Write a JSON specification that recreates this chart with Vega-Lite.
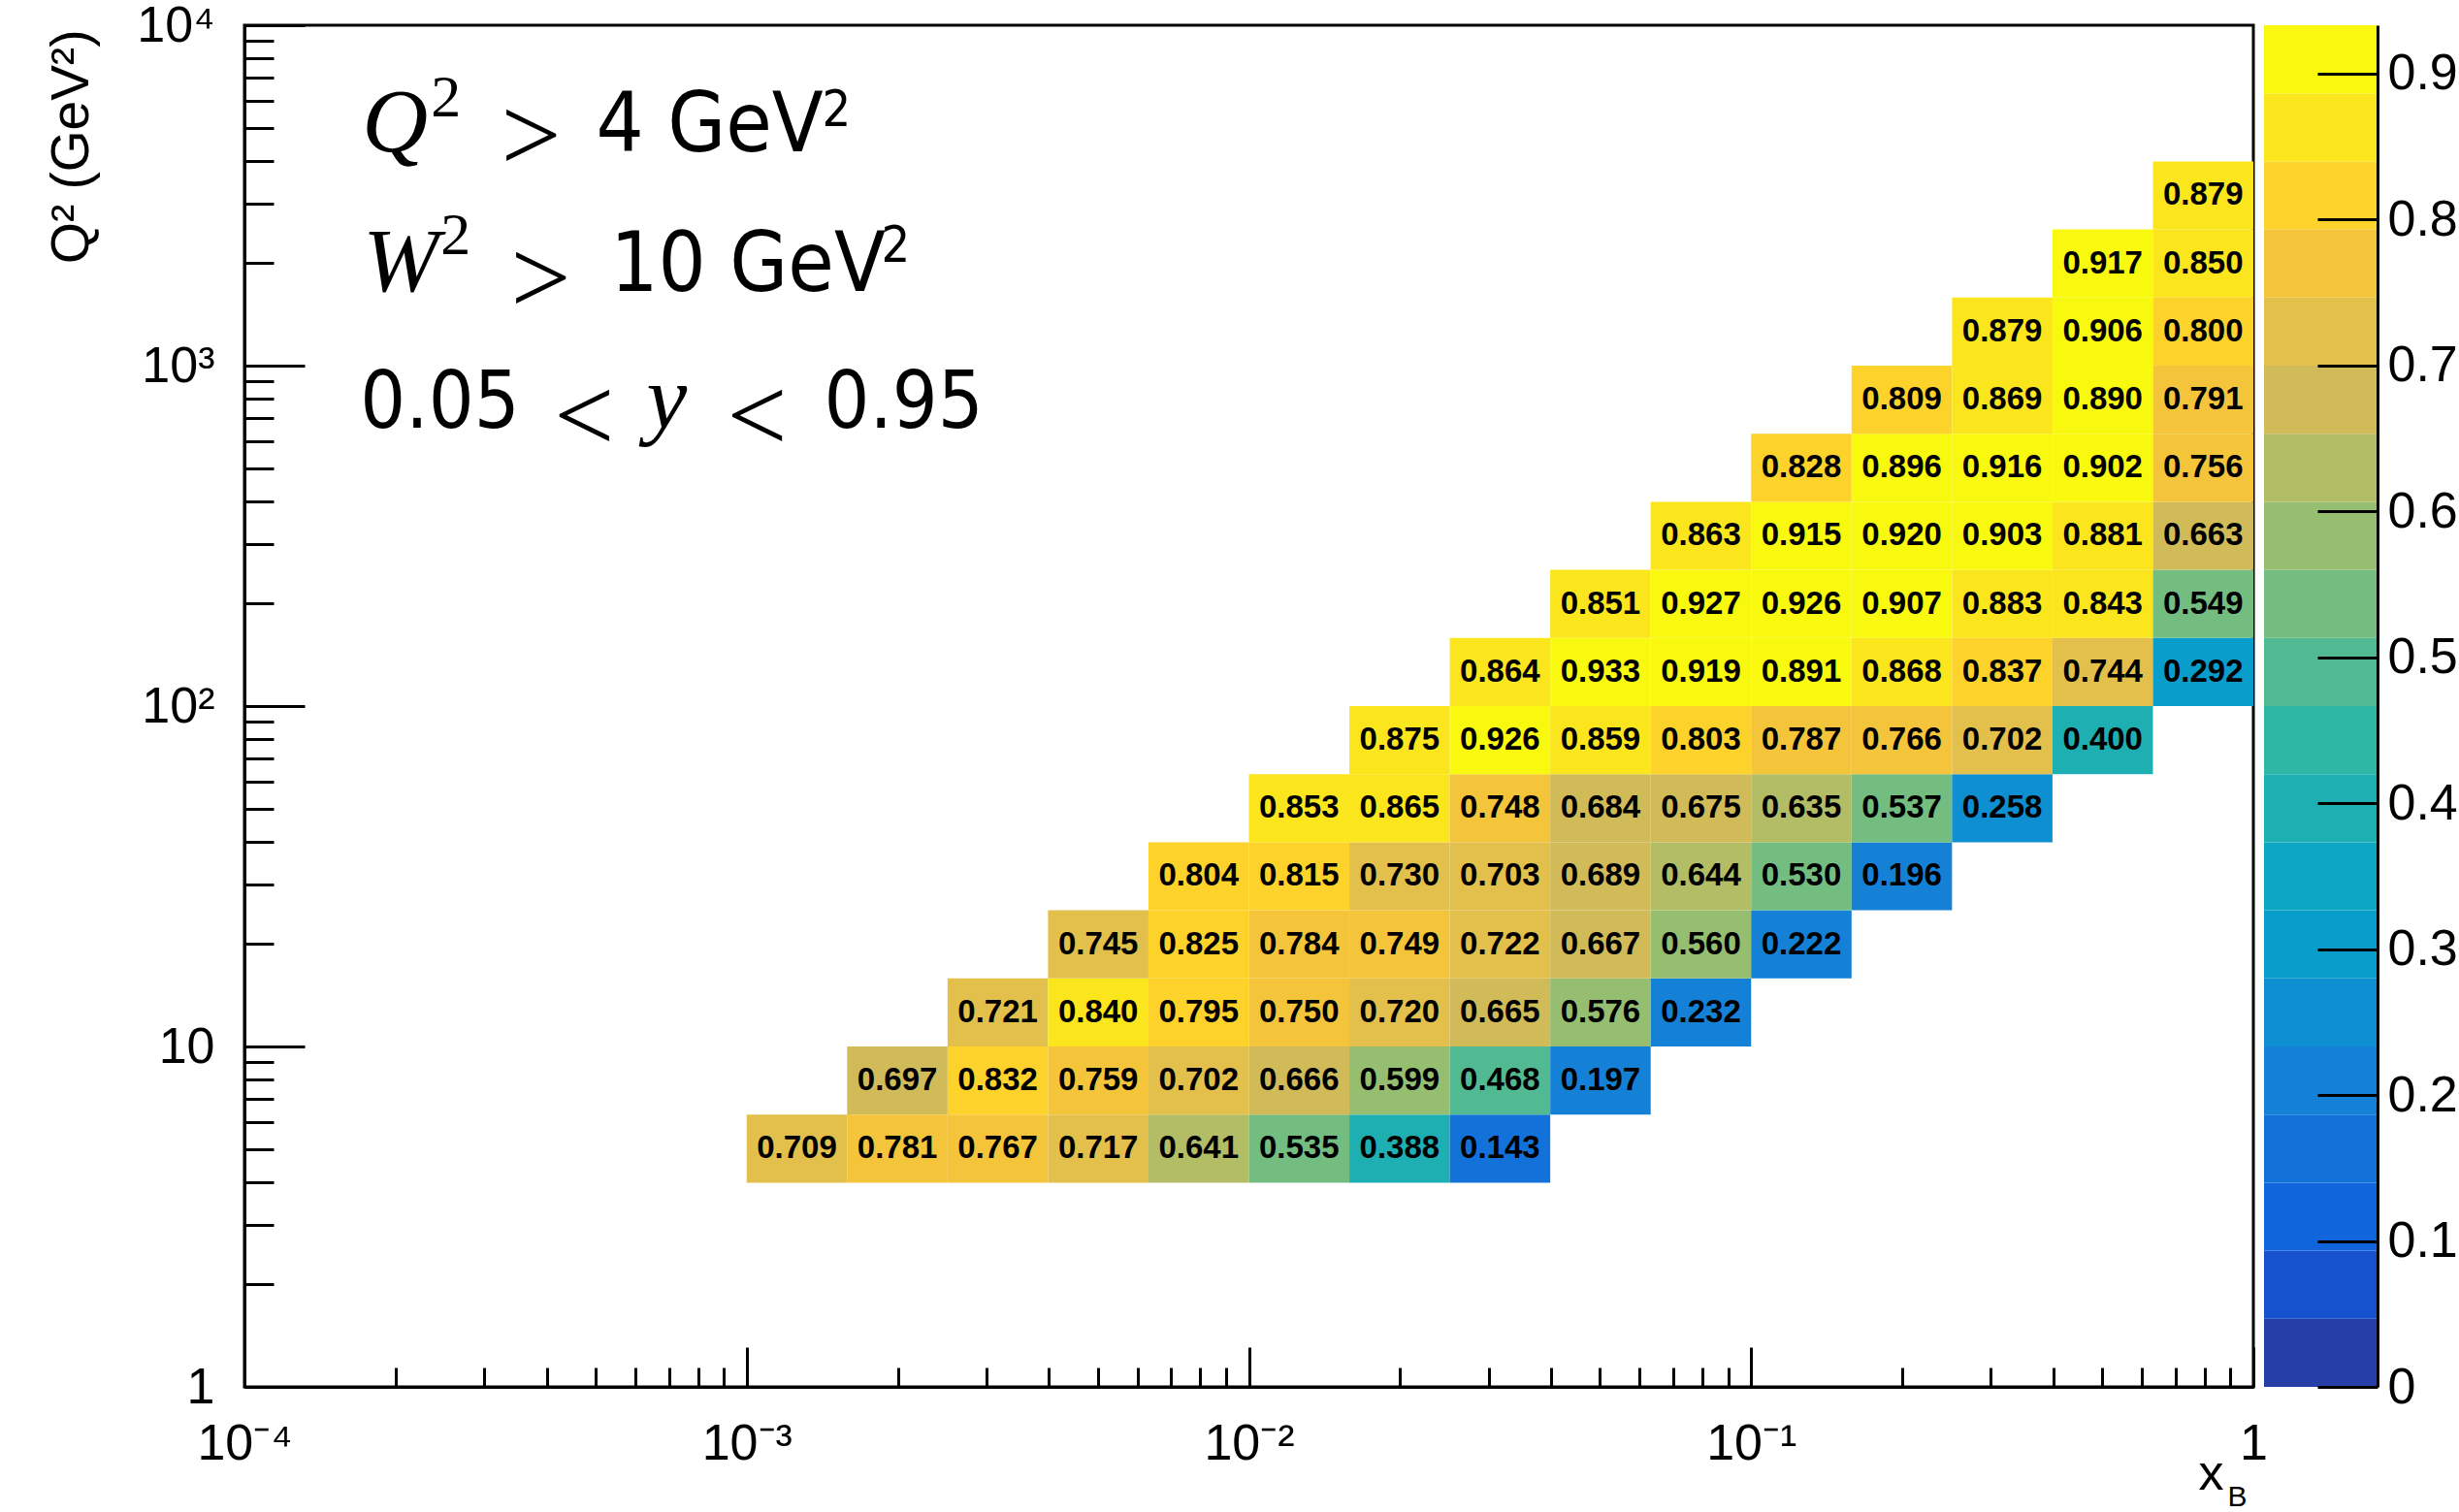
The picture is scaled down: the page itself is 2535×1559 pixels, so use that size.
{
  "$schema": "https://vega.github.io/schema/vega-lite/v6.json",
  "background": "white",
  "padding": {"left": 44, "top": -2, "right": 0, "bottom": 0},
  "autosize": {"type": "pad"},
  "spacing": 11,
  "bounds": "flush",
  "resolve": {"scale": {"color": "independent"}},
  "config": {
    "view": {"stroke": null},
    "axis": {
      "grid": false,
      "zindex": 1,
      "domainColor": "black",
      "domainWidth": 3,
      "tickColor": "black",
      "tickWidth": 3,
      "labelColor": "black",
      "titleColor": "black",
      "labelFont": "Liberation Sans",
      "titleFont": "Liberation Sans",
      "labelFontSize": 52,
      "titleFontSize": 55,
      "titleFontWeight": "normal",
      "labelOverlap": false,
      "labelFlush": false,
      "labelBound": false
    }
  },
  "datasets": {
    "xbins": [
      {"ix": 0, "x0": 0.001, "x1": 0.0015849, "xc": 0.0012589},
      {"ix": 1, "x0": 0.0015849, "x1": 0.0025119, "xc": 0.0019953},
      {"ix": 2, "x0": 0.0025119, "x1": 0.0039811, "xc": 0.0031623},
      {"ix": 3, "x0": 0.0039811, "x1": 0.0063096, "xc": 0.0050119},
      {"ix": 4, "x0": 0.0063096, "x1": 0.01, "xc": 0.0079433},
      {"ix": 5, "x0": 0.01, "x1": 0.015849, "xc": 0.012589},
      {"ix": 6, "x0": 0.015849, "x1": 0.025119, "xc": 0.019953},
      {"ix": 7, "x0": 0.025119, "x1": 0.039811, "xc": 0.031623},
      {"ix": 8, "x0": 0.039811, "x1": 0.063096, "xc": 0.050119},
      {"ix": 9, "x0": 0.063096, "x1": 0.1, "xc": 0.079433},
      {"ix": 10, "x0": 0.1, "x1": 0.15849, "xc": 0.12589},
      {"ix": 11, "x0": 0.15849, "x1": 0.25119, "xc": 0.19953},
      {"ix": 12, "x0": 0.25119, "x1": 0.39811, "xc": 0.31623},
      {"ix": 13, "x0": 0.39811, "x1": 0.63096, "xc": 0.50119},
      {"ix": 14, "x0": 0.63096, "x1": 1, "xc": 0.79433}
    ],
    "qbins": [
      {"iq": 0, "q0": 3.9811, "q1": 6.3096, "qc": 5.0119},
      {"iq": 1, "q0": 6.3096, "q1": 10, "qc": 7.9433},
      {"iq": 2, "q0": 10, "q1": 15.849, "qc": 12.589},
      {"iq": 3, "q0": 15.849, "q1": 25.119, "qc": 19.953},
      {"iq": 4, "q0": 25.119, "q1": 39.811, "qc": 31.623},
      {"iq": 5, "q0": 39.811, "q1": 63.096, "qc": 50.119},
      {"iq": 6, "q0": 63.096, "q1": 100, "qc": 79.433},
      {"iq": 7, "q0": 100, "q1": 158.49, "qc": 125.89},
      {"iq": 8, "q0": 158.49, "q1": 251.19, "qc": 199.53},
      {"iq": 9, "q0": 251.19, "q1": 398.11, "qc": 316.23},
      {"iq": 10, "q0": 398.11, "q1": 630.96, "qc": 501.19},
      {"iq": 11, "q0": 630.96, "q1": 1000, "qc": 794.33},
      {"iq": 12, "q0": 1000, "q1": 1584.9, "qc": 1258.9},
      {"iq": 13, "q0": 1584.9, "q1": 2511.9, "qc": 1995.3},
      {"iq": 14, "q0": 2511.9, "q1": 3981.1, "qc": 3162.3}
    ],
    "cells": [
      {"iq": 0, "ix": 0, "v": 0.709}, {"iq": 0, "ix": 1, "v": 0.781}, {"iq": 0, "ix": 2, "v": 0.767}, {"iq": 0, "ix": 3, "v": 0.717},
      {"iq": 0, "ix": 4, "v": 0.641}, {"iq": 0, "ix": 5, "v": 0.535}, {"iq": 0, "ix": 6, "v": 0.388}, {"iq": 0, "ix": 7, "v": 0.143},
      {"iq": 1, "ix": 1, "v": 0.697}, {"iq": 1, "ix": 2, "v": 0.832}, {"iq": 1, "ix": 3, "v": 0.759}, {"iq": 1, "ix": 4, "v": 0.702},
      {"iq": 1, "ix": 5, "v": 0.666}, {"iq": 1, "ix": 6, "v": 0.599}, {"iq": 1, "ix": 7, "v": 0.468}, {"iq": 1, "ix": 8, "v": 0.197},
      {"iq": 2, "ix": 2, "v": 0.721}, {"iq": 2, "ix": 3, "v": 0.840}, {"iq": 2, "ix": 4, "v": 0.795}, {"iq": 2, "ix": 5, "v": 0.750},
      {"iq": 2, "ix": 6, "v": 0.720}, {"iq": 2, "ix": 7, "v": 0.665}, {"iq": 2, "ix": 8, "v": 0.576}, {"iq": 2, "ix": 9, "v": 0.232},
      {"iq": 3, "ix": 3, "v": 0.745}, {"iq": 3, "ix": 4, "v": 0.825}, {"iq": 3, "ix": 5, "v": 0.784}, {"iq": 3, "ix": 6, "v": 0.749},
      {"iq": 3, "ix": 7, "v": 0.722}, {"iq": 3, "ix": 8, "v": 0.667}, {"iq": 3, "ix": 9, "v": 0.560}, {"iq": 3, "ix": 10, "v": 0.222},
      {"iq": 4, "ix": 4, "v": 0.804}, {"iq": 4, "ix": 5, "v": 0.815}, {"iq": 4, "ix": 6, "v": 0.730}, {"iq": 4, "ix": 7, "v": 0.703},
      {"iq": 4, "ix": 8, "v": 0.689}, {"iq": 4, "ix": 9, "v": 0.644}, {"iq": 4, "ix": 10, "v": 0.530}, {"iq": 4, "ix": 11, "v": 0.196},
      {"iq": 5, "ix": 5, "v": 0.853}, {"iq": 5, "ix": 6, "v": 0.865}, {"iq": 5, "ix": 7, "v": 0.748}, {"iq": 5, "ix": 8, "v": 0.684},
      {"iq": 5, "ix": 9, "v": 0.675}, {"iq": 5, "ix": 10, "v": 0.635}, {"iq": 5, "ix": 11, "v": 0.537}, {"iq": 5, "ix": 12, "v": 0.258},
      {"iq": 6, "ix": 6, "v": 0.875}, {"iq": 6, "ix": 7, "v": 0.926}, {"iq": 6, "ix": 8, "v": 0.859}, {"iq": 6, "ix": 9, "v": 0.803},
      {"iq": 6, "ix": 10, "v": 0.787}, {"iq": 6, "ix": 11, "v": 0.766}, {"iq": 6, "ix": 12, "v": 0.702}, {"iq": 6, "ix": 13, "v": 0.400},
      {"iq": 7, "ix": 7, "v": 0.864}, {"iq": 7, "ix": 8, "v": 0.933}, {"iq": 7, "ix": 9, "v": 0.919}, {"iq": 7, "ix": 10, "v": 0.891},
      {"iq": 7, "ix": 11, "v": 0.868}, {"iq": 7, "ix": 12, "v": 0.837}, {"iq": 7, "ix": 13, "v": 0.744}, {"iq": 7, "ix": 14, "v": 0.292},
      {"iq": 8, "ix": 8, "v": 0.851}, {"iq": 8, "ix": 9, "v": 0.927}, {"iq": 8, "ix": 10, "v": 0.926}, {"iq": 8, "ix": 11, "v": 0.907},
      {"iq": 8, "ix": 12, "v": 0.883}, {"iq": 8, "ix": 13, "v": 0.843}, {"iq": 8, "ix": 14, "v": 0.549},
      {"iq": 9, "ix": 9, "v": 0.863}, {"iq": 9, "ix": 10, "v": 0.915}, {"iq": 9, "ix": 11, "v": 0.920}, {"iq": 9, "ix": 12, "v": 0.903},
      {"iq": 9, "ix": 13, "v": 0.881}, {"iq": 9, "ix": 14, "v": 0.663},
      {"iq": 10, "ix": 10, "v": 0.828}, {"iq": 10, "ix": 11, "v": 0.896}, {"iq": 10, "ix": 12, "v": 0.916}, {"iq": 10, "ix": 13, "v": 0.902},
      {"iq": 10, "ix": 14, "v": 0.756},
      {"iq": 11, "ix": 11, "v": 0.809}, {"iq": 11, "ix": 12, "v": 0.869}, {"iq": 11, "ix": 13, "v": 0.890}, {"iq": 11, "ix": 14, "v": 0.791},
      {"iq": 12, "ix": 12, "v": 0.879}, {"iq": 12, "ix": 13, "v": 0.906}, {"iq": 12, "ix": 14, "v": 0.800},
      {"iq": 13, "ix": 13, "v": 0.917}, {"iq": 13, "ix": 14, "v": 0.850},
      {"iq": 14, "ix": 14, "v": 0.879}
    ],
    "bands": [
      {"lo": 0, "hi": 0.04665}, {"lo": 0.04665, "hi": 0.0933}, {"lo": 0.0933, "hi": 0.13995}, {"lo": 0.13995, "hi": 0.1866},
      {"lo": 0.1866, "hi": 0.23325}, {"lo": 0.23325, "hi": 0.2799}, {"lo": 0.2799, "hi": 0.32655}, {"lo": 0.32655, "hi": 0.3732},
      {"lo": 0.3732, "hi": 0.41985}, {"lo": 0.41985, "hi": 0.4665}, {"lo": 0.4665, "hi": 0.51315}, {"lo": 0.51315, "hi": 0.5598},
      {"lo": 0.5598, "hi": 0.60645}, {"lo": 0.60645, "hi": 0.6531}, {"lo": 0.6531, "hi": 0.69975}, {"lo": 0.69975, "hi": 0.7464},
      {"lo": 0.7464, "hi": 0.79305}, {"lo": 0.79305, "hi": 0.8397}, {"lo": 0.8397, "hi": 0.88635}, {"lo": 0.88635, "hi": 0.933}
    ]
  },
  "hconcat": [
    {
      "width": 2071,
      "height": 1404,
      "view": {"stroke": "black", "strokeWidth": 3},
      "layer": [
        {
          "data": {"name": "cells"},
          "transform": [
            {"lookup": "ix", "from": {"data": {"name": "xbins"}, "key": "ix", "fields": ["x0", "x1", "xc"]}},
            {"lookup": "iq", "from": {"data": {"name": "qbins"}, "key": "iq", "fields": ["q0", "q1", "qc"]}}
          ],
          "mark": {"type": "rect"},
          "encoding": {
            "x": {
              "field": "x0", "type": "quantitative",
              "scale": {"type": "log", "domain": [0.0001, 1], "nice": false},
              "axis": {
                "orient": "bottom",
                "title": null,
                "values": [0.0001,0.0002,0.0003,0.0004,0.0005,0.0006,0.0007,0.0008,0.0009,0.001,0.002,0.003,0.004,0.005,0.006,0.007,0.008,0.009,0.01,0.02,0.03,0.04,0.05,0.06,0.07,0.08,0.09,0.1,0.2,0.3,0.4,0.5,0.6,0.7,0.8,0.9,1],
                "tickSize": {"condition": {"test": "abs(log(datum.value)/LN10 - round(log(datum.value)/LN10)) < 0.001", "value": -41}, "value": -20},
                "labelPadding": 74,
                "labelExpr": "abs(log(datum.value)/LN10 - round(log(datum.value)/LN10)) > 0.001 ? '' : datum.value > 0.5 ? '1' : datum.value > 0.05 ? '10⁻¹' : datum.value > 0.005 ? '10⁻²' : datum.value > 0.0005 ? '10⁻³' : '10⁻⁴'"
              }
            },
            "x2": {"field": "x1"},
            "y": {
              "field": "q0", "type": "quantitative",
              "scale": {"type": "log", "domain": [1, 10000], "nice": false},
              "axis": {
                "orient": "left",
                "title": "Q² (GeV²)",
                "titleAnchor": "end",
                "titleAngle": 270,
                "titleAlign": "right",
                "titleBaseline": "bottom",
                "titleX": -150,
                "titleY": 4,
                "values": [1,2,3,4,5,6,7,8,9,10,20,30,40,50,60,70,80,90,100,200,300,400,500,600,700,800,900,1000,2000,3000,4000,5000,6000,7000,8000,9000,10000],
                "tickSize": {"condition": {"test": "abs(log(datum.value)/LN10 - round(log(datum.value)/LN10)) < 0.001", "value": -62}, "value": -30},
                "labelPadding": 93,
                "labelExpr": "abs(log(datum.value)/LN10 - round(log(datum.value)/LN10)) > 0.001 ? '' : datum.value < 2 ? '1' : datum.value < 20 ? '10' : datum.value < 200 ? '10²' : datum.value < 2000 ? '10³' : '10⁴'"
              }
            },
            "y2": {"field": "q1"},
            "color": {
              "field": "v", "type": "quantitative",
              "scale": {
                "type": "threshold",
                "domain": [0.04618, 0.09283, 0.13948, 0.18613, 0.23278, 0.27943, 0.32608, 0.37273, 0.41938, 0.46603, 0.51268, 0.55933, 0.60598, 0.65263, 0.69928, 0.74593, 0.79258, 0.83923, 0.88588],
                "range": ["#263ea8","#1652cd","#1064dc","#1272d9","#1481d6","#0e8fd1","#099dcc","#0da7c3","#1eafb3","#2eb7a4","#52ba92","#74bd81","#95be71","#b3bd65","#d1bb59","#e2c04b","#f4c53b","#fdd22b","#fbe61d","#f9f90f"]
              },
              "legend": null
            }
          }
        },
        {
          "data": {"name": "cells"},
          "transform": [
            {"lookup": "ix", "from": {"data": {"name": "xbins"}, "key": "ix", "fields": ["x0", "x1", "xc"]}},
            {"lookup": "iq", "from": {"data": {"name": "qbins"}, "key": "iq", "fields": ["q0", "q1", "qc"]}}
          ],
          "mark": {"type": "text", "font": "Liberation Sans", "fontWeight": "bold", "fontSize": 33, "align": "center", "baseline": "middle", "color": "black"},
          "encoding": {
            "x": {"field": "xc", "type": "quantitative", "scale": {"type": "log", "domain": [0.0001, 1], "nice": false}},
            "y": {"field": "qc", "type": "quantitative", "scale": {"type": "log", "domain": [1, 10000], "nice": false}},
            "text": {"field": "v", "type": "quantitative", "format": ".3f"}
          }
        },
        {
          "data": {"values": [{}]},
          "mark": {"type": "text", "text": "Q", "font": "Liberation Serif", "fontStyle": "italic", "fontSize": 94, "align": "left", "baseline": "alphabetic", "color": "black"},
          "encoding": {
            "x": {"datum": 0.00017155, "type": "quantitative", "scale": {"type": "log", "domain": [0.0001, 1], "nice": false}},
            "y": {"datum": 4276, "type": "quantitative", "scale": {"type": "log", "domain": [1, 10000], "nice": false}}
          }
        },
        {
          "data": {"values": [{}]},
          "mark": {"type": "text", "text": "2", "font": "Liberation Serif", "fontSize": 62, "align": "left", "baseline": "alphabetic", "color": "black"},
          "encoding": {
            "x": {"datum": 0.00023522, "type": "quantitative", "scale": {"type": "log", "domain": [0.0001, 1], "nice": false}},
            "y": {"datum": 5380, "type": "quantitative", "scale": {"type": "log", "domain": [1, 10000], "nice": false}}
          }
        },
        {
          "data": {"values": [{}]},
          "mark": {"type": "text", "text": ">", "font": "Liberation Serif", "fontSize": 110, "align": "left", "baseline": "alphabetic", "color": "black"},
          "encoding": {
            "x": {"datum": 0.00032408, "type": "quantitative", "scale": {"type": "log", "domain": [0.0001, 1], "nice": false}},
            "y": {"datum": 3726, "type": "quantitative", "scale": {"type": "log", "domain": [1, 10000], "nice": false}}
          }
        },
        {
          "data": {"values": [{}]},
          "mark": {"type": "text", "text": "4 GeV", "font": "DejaVu Sans Condensed, Liberation Sans Narrow, DejaVu Sans", "fontSize": 86, "align": "left", "baseline": "alphabetic", "color": "black"},
          "encoding": {
            "x": {"datum": 0.00050119, "type": "quantitative", "scale": {"type": "log", "domain": [0.0001, 1], "nice": false}},
            "y": {"datum": 4276, "type": "quantitative", "scale": {"type": "log", "domain": [1, 10000], "nice": false}}
          }
        },
        {
          "data": {"values": [{}]},
          "mark": {"type": "text", "text": "2", "font": "DejaVu Sans Condensed, Liberation Sans Narrow, DejaVu Sans", "fontSize": 52, "align": "left", "baseline": "alphabetic", "color": "black"},
          "encoding": {
            "x": {"datum": 0.0014125, "type": "quantitative", "scale": {"type": "log", "domain": [0.0001, 1], "nice": false}},
            "y": {"datum": 5039, "type": "quantitative", "scale": {"type": "log", "domain": [1, 10000], "nice": false}}
          }
        },
        {
          "data": {"values": [{}]},
          "mark": {"type": "text", "text": "W", "font": "Liberation Serif", "fontStyle": "italic", "fontSize": 94, "align": "left", "baseline": "alphabetic", "color": "black"},
          "encoding": {
            "x": {"datum": 0.0001723, "type": "quantitative", "scale": {"type": "log", "domain": [0.0001, 1], "nice": false}},
            "y": {"datum": 1652, "type": "quantitative", "scale": {"type": "log", "domain": [1, 10000], "nice": false}}
          }
        },
        {
          "data": {"values": [{}]},
          "mark": {"type": "text", "text": "2", "font": "Liberation Serif", "fontSize": 62, "align": "left", "baseline": "alphabetic", "color": "black"},
          "encoding": {
            "x": {"datum": 0.00024591, "type": "quantitative", "scale": {"type": "log", "domain": [0.0001, 1], "nice": false}},
            "y": {"datum": 2120, "type": "quantitative", "scale": {"type": "log", "domain": [1, 10000], "nice": false}}
          }
        },
        {
          "data": {"values": [{}]},
          "mark": {"type": "text", "text": ">", "font": "Liberation Serif", "fontSize": 110, "align": "left", "baseline": "alphabetic", "color": "black"},
          "encoding": {
            "x": {"datum": 0.00033884, "type": "quantitative", "scale": {"type": "log", "domain": [0.0001, 1], "nice": false}},
            "y": {"datum": 1423, "type": "quantitative", "scale": {"type": "log", "domain": [1, 10000], "nice": false}}
          }
        },
        {
          "data": {"values": [{}]},
          "mark": {"type": "text", "text": "10 GeV", "font": "DejaVu Sans Condensed, Liberation Sans Narrow, DejaVu Sans", "fontSize": 86, "align": "left", "baseline": "alphabetic", "color": "black"},
          "encoding": {
            "x": {"datum": 0.00053556, "type": "quantitative", "scale": {"type": "log", "domain": [0.0001, 1], "nice": false}},
            "y": {"datum": 1652, "type": "quantitative", "scale": {"type": "log", "domain": [1, 10000], "nice": false}}
          }
        },
        {
          "data": {"values": [{}]},
          "mark": {"type": "text", "text": "2", "font": "DejaVu Sans Condensed, Liberation Sans Narrow, DejaVu Sans", "fontSize": 52, "align": "left", "baseline": "alphabetic", "color": "black"},
          "encoding": {
            "x": {"datum": 0.0018526, "type": "quantitative", "scale": {"type": "log", "domain": [0.0001, 1], "nice": false}},
            "y": {"datum": 2024, "type": "quantitative", "scale": {"type": "log", "domain": [1, 10000], "nice": false}}
          }
        },
        {
          "data": {"values": [{}]},
          "mark": {"type": "text", "text": "0.05", "font": "DejaVu Sans Condensed, Liberation Sans Narrow, DejaVu Sans", "fontSize": 82, "align": "left", "baseline": "alphabetic", "color": "black"},
          "encoding": {
            "x": {"datum": 0.00017003, "type": "quantitative", "scale": {"type": "log", "domain": [0.0001, 1], "nice": false}},
            "y": {"datum": 659, "type": "quantitative", "scale": {"type": "log", "domain": [1, 10000], "nice": false}}
          }
        },
        {
          "data": {"values": [{}]},
          "mark": {"type": "text", "text": "<", "font": "Liberation Serif", "fontSize": 110, "align": "left", "baseline": "alphabetic", "color": "black"},
          "encoding": {
            "x": {"datum": 0.00041381, "type": "quantitative", "scale": {"type": "log", "domain": [0.0001, 1], "nice": false}},
            "y": {"datum": 560, "type": "quantitative", "scale": {"type": "log", "domain": [1, 10000], "nice": false}}
          }
        },
        {
          "data": {"values": [{}]},
          "mark": {"type": "text", "text": "y", "font": "Liberation Serif", "fontStyle": "italic", "fontSize": 94, "align": "left", "baseline": "alphabetic", "color": "black"},
          "encoding": {
            "x": {"datum": 0.00063154, "type": "quantitative", "scale": {"type": "log", "domain": [0.0001, 1], "nice": false}},
            "y": {"datum": 659, "type": "quantitative", "scale": {"type": "log", "domain": [1, 10000], "nice": false}}
          }
        },
        {
          "data": {"values": [{}]},
          "mark": {"type": "text", "text": "<", "font": "Liberation Serif", "fontSize": 110, "align": "left", "baseline": "alphabetic", "color": "black"},
          "encoding": {
            "x": {"datum": 0.00091344, "type": "quantitative", "scale": {"type": "log", "domain": [0.0001, 1], "nice": false}},
            "y": {"datum": 560, "type": "quantitative", "scale": {"type": "log", "domain": [1, 10000], "nice": false}}
          }
        },
        {
          "data": {"values": [{}]},
          "mark": {"type": "text", "text": "0.95", "font": "DejaVu Sans Condensed, Liberation Sans Narrow, DejaVu Sans", "fontSize": 82, "align": "left", "baseline": "alphabetic", "color": "black"},
          "encoding": {
            "x": {"datum": 0.0014254, "type": "quantitative", "scale": {"type": "log", "domain": [0.0001, 1], "nice": false}},
            "y": {"datum": 659, "type": "quantitative", "scale": {"type": "log", "domain": [1, 10000], "nice": false}}
          }
        },
        {
          "data": {"values": [{}]},
          "mark": {"type": "text", "text": "x", "font": "Liberation Sans", "fontSize": 52, "align": "left", "baseline": "alphabetic", "color": "black"},
          "encoding": {
            "x": {"datum": 0.7774, "type": "quantitative", "scale": {"type": "log", "domain": [0.0001, 1], "nice": false}},
            "y": {"datum": 0.5005, "type": "quantitative", "scale": {"type": "log", "domain": [1, 10000], "nice": false}}
          }
        },
        {
          "data": {"values": [{}]},
          "mark": {"type": "text", "text": "B", "font": "Liberation Sans", "fontSize": 30, "align": "left", "baseline": "alphabetic", "color": "black"},
          "encoding": {
            "x": {"datum": 0.8884, "type": "quantitative", "scale": {"type": "log", "domain": [0.0001, 1], "nice": false}},
            "y": {"datum": 0.4477, "type": "quantitative", "scale": {"type": "log", "domain": [1, 10000], "nice": false}}
          }
        }
      ]
    },
    {
      "width": 117,
      "height": 1404,
      "view": {"stroke": null},
      "data": {"name": "bands"},
      "mark": {"type": "rect"},
      "encoding": {
        "y": {
          "field": "lo", "type": "quantitative",
          "scale": {"domain": [0, 0.933], "nice": false, "zero": false},
          "axis": {
            "orient": "right",
            "title": null,
            "zindex": 2,
            "values": [0, 0.1, 0.2, 0.3, 0.4, 0.5, 0.6, 0.7, 0.8, 0.9],
            "tickSize": -62,
            "labelPadding": 72,
            "labelExpr": "datum.value == 0 ? '0' : format(datum.value, '.1f')"
          }
        },
        "y2": {"field": "hi"},
        "color": {
          "field": "lo", "type": "quantitative",
          "scale": {
            "type": "threshold",
            "domain": [0.04618, 0.09283, 0.13948, 0.18613, 0.23278, 0.27943, 0.32608, 0.37273, 0.41938, 0.46603, 0.51268, 0.55933, 0.60598, 0.65263, 0.69928, 0.74593, 0.79258, 0.83923, 0.88588],
            "range": ["#263ea8","#1652cd","#1064dc","#1272d9","#1481d6","#0e8fd1","#099dcc","#0da7c3","#1eafb3","#2eb7a4","#52ba92","#74bd81","#95be71","#b3bd65","#d1bb59","#e2c04b","#f4c53b","#fdd22b","#fbe61d","#f9f90f"]
          },
          "legend": null
        }
      }
    }
  ]
}
